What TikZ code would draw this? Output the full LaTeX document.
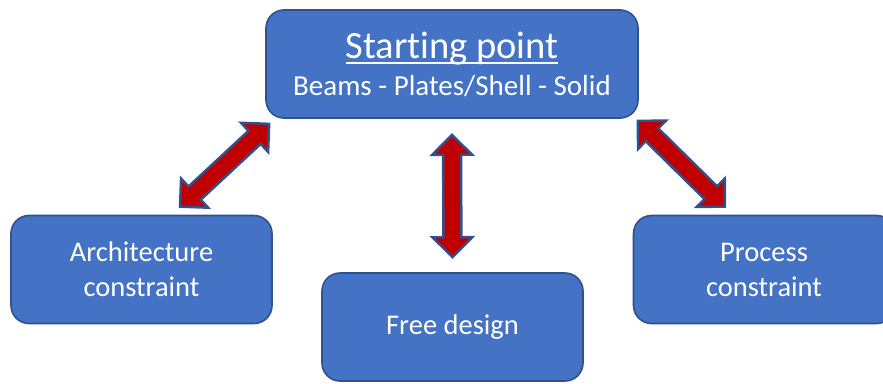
\documentclass[tikz,border=0pt]{standalone}
\usepackage{fontspec}
\setmainfont{Carlito}[Ligatures=NoCommon]
\usetikzlibrary{calc}
\definecolor{boxblue}{HTML}{4472C4}
\definecolor{edgeblue}{HTML}{2F528F}
\definecolor{arrowred}{HTML}{C00000}
\newsavebox\titlebox
\newcommand\titleline[1]{\sbox\titlebox{#1}\rlap{\rule[-5.5pt]{\wd\titlebox}{2pt}}\usebox\titlebox}
\tikzset{
  block/.style={draw=edgeblue, line width=1.6pt, fill=boxblue, rounded corners=18pt,
    minimum width=261pt, minimum height=108pt, inner sep=0pt, text=white, align=center,
    font=\fontsize{28.5}{35}\selectfont},
  twoway/.style={draw=edgeblue, line width=2.4pt, fill=arrowred, line join=miter}
}
\newcommand\twowayarrow[2]{%
  \coordinate (h1) at ($(#1)!20pt!(#2)$);
  \coordinate (h2) at ($(#2)!20pt!(#1)$);
  \draw[twoway] (#1) -- ($(h1)!20pt!90:(#2)$) -- ($(h1)!9pt!90:(#2)$)
    -- ($(h2)!9pt!-90:(#1)$) -- ($(h2)!20pt!-90:(#1)$) -- (#2)
    -- ($(h2)!20pt!90:(#1)$) -- ($(h2)!9pt!90:(#1)$)
    -- ($(h1)!9pt!-90:(#2)$) -- ($(h1)!20pt!-90:(#2)$) -- cycle;
}
\begin{document}
\begin{tikzpicture}[x=1pt, y=1pt]
                \useasboundingbox (0,0) rectangle (883,-383);

                \node[block, minimum width=372pt, font=\fontsize{29}{37}\selectfont] (start) at (452,-64)
                  {{\fontsize{38.5}{37}\selectfont\titleline{Starting point}}\\ Beams - Plates/Shell - Solid};
                \node[block] (arch) at (141.5,-269.5) {Architecture\\ constraint};
                \node[block] (free) at (452.5,-327) {Free design};
                \node[block] (proc) at (764,-269.5) {Process\\ constraint};

                \coordinate (lt) at ($(start.south west)+(4,-5)$);
                \coordinate (lb) at ($(arch.north)+(38.5,8)$);
                \coordinate (mt) at ($(start.south)+(0,-16)$);
                \coordinate (mb) at ($(free.north)+(0,15)$);
                \coordinate (rt) at ($(start.south east)+(-1,-2)$);
                \coordinate (rb) at ($(proc.north)+(-39,8)$);

                \twowayarrow{lt}{lb}
                \twowayarrow{mt}{mb}
                \twowayarrow{rt}{rb}

\end{tikzpicture}
\end{document}
